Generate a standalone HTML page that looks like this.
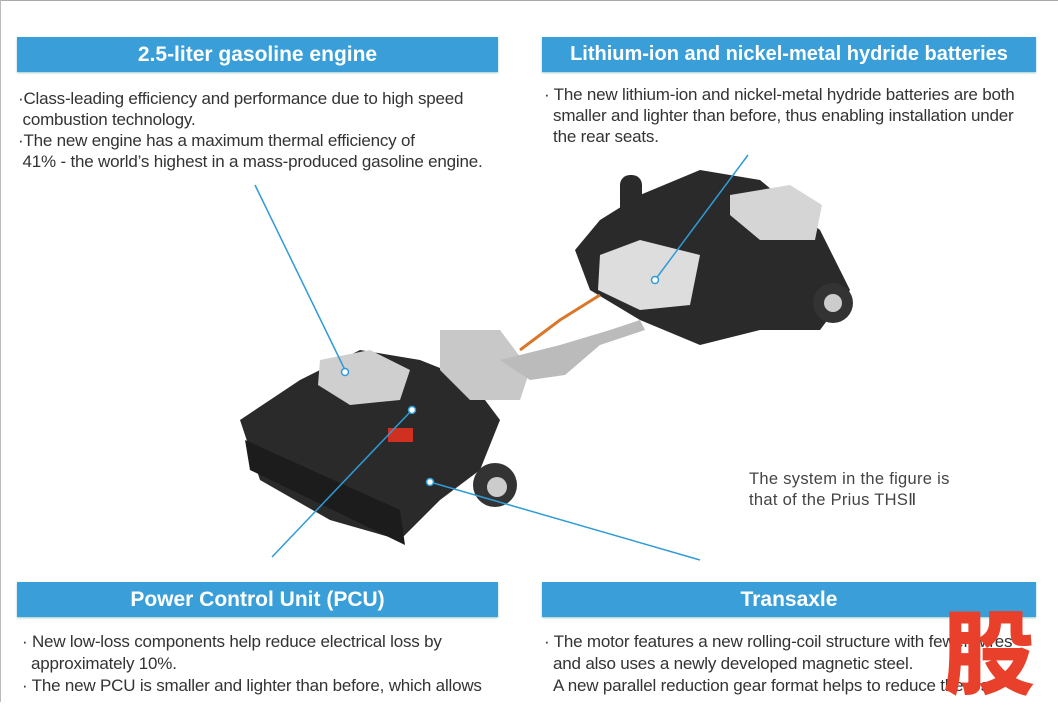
<!DOCTYPE html>
<html><head><meta charset="utf-8"><style>
body{margin:0;width:1058px;height:702px;overflow:hidden;background:#fff;position:relative;font-family:"Liberation Sans",sans-serif;color:#333}
.h{position:absolute;background:#3a9fd9;color:#fff;font-family:"Liberation Sans",sans-serif;font-weight:bold;font-size:21px;text-align:center;line-height:35px;height:35px;box-shadow:0 1px 2px #9cc}
.t{position:absolute;font-size:17px;line-height:21px;white-space:nowrap;letter-spacing:-0.2px}
</style></head><body>
<div style="position:absolute;left:0;top:0;width:1058px;height:1px;background:#aaa"></div>
<div style="position:absolute;left:0;top:0;width:1px;height:702px;background:#bbb"></div>
<div class="h" style="left:17px;top:37px;width:481px">2.5-liter gasoline engine</div>
<div class="h" style="left:542px;top:37px;width:494px;font-size:20px">Lithium-ion and nickel-metal hydride batteries</div>
<div class="h" style="left:17px;top:582px;width:481px">Power Control Unit (PCU)</div>
<div class="h" style="left:542px;top:582px;width:494px">Transaxle</div>
<div class="t" style="left:18px;top:88px">·Class-leading efficiency and performance due to high speed<br>&nbsp;combustion technology.<br>·The new engine has a maximum thermal efficiency of<br>&nbsp;41% - the world’s highest in a mass-produced gasoline engine.</div>
<div class="t" style="left:544px;top:84px">· The new lithium-ion and nickel-metal hydride batteries are both<br>&nbsp;&nbsp;smaller and lighter than before, thus enabling installation under<br>&nbsp;&nbsp;the rear seats.</div>
<div class="t" style="left:22px;top:631px;line-height:22px">· New low-loss components help reduce electrical loss by<br>&nbsp;&nbsp;approximately 10%.<br>· The new PCU is smaller and lighter than before, which allows</div>
<div class="t" style="left:544px;top:631px;line-height:22px">· The motor features a new rolling-coil structure with fewer wires<br>&nbsp;&nbsp;and also uses a newly developed magnetic steel.<br>&nbsp;&nbsp;A new parallel reduction gear format helps to reduce the loss</div>
<div class="t" style="left:749px;top:469px;font-size:16.5px;line-height:21px;color:#444;letter-spacing:0.3px">The system in the figure is<br>that of the Prius THSⅡ</div>
<svg style="position:absolute;left:0;top:0" width="1058" height="702">
<g fill="#2a2a2a">
<polygon points="240,420 300,380 360,350 420,360 470,380 500,420 480,470 440,500 400,540 330,520 260,480"/>
<polygon points="245,440 400,510 405,545 250,470" fill="#1c1c1c"/>
<polygon points="575,250 600,220 640,195 700,170 760,180 820,230 850,290 820,330 760,330 700,345 640,320 590,290"/>
<rect x="620" y="175" width="22" height="45" rx="10"/>
<circle cx="833" cy="303" r="20" fill="#333"/><circle cx="833" cy="303" r="9" fill="#ccc"/>
<circle cx="495" cy="485" r="22" fill="#333"/><circle cx="497" cy="487" r="10" fill="#ccc"/>
</g>
<polygon points="600,255 640,240 700,255 690,305 640,310 598,290" fill="#ddd"/>
<polygon points="730,195 790,185 822,205 815,240 760,240 730,215" fill="#d5d5d5"/>
<polygon points="320,360 370,350 410,370 400,400 350,405 318,385" fill="#cfcfcf"/>
<polygon points="440,330 500,330 530,370 520,400 470,400 440,370" fill="#c8c8c8"/>
<polygon points="500,360 560,345 610,330 640,320 645,330 600,345 565,375 530,380" fill="#bbb"/>
<rect x="388" y="428" width="25" height="14" fill="#d03020"/>
<path d="M520,350 L560,320 L600,295" stroke="#d9782b" stroke-width="3" fill="none"/>
<g stroke="#2f9bd6" stroke-width="1.5" fill="none">
<line x1="255" y1="185" x2="345" y2="370"/>
<line x1="748" y1="155" x2="655" y2="280"/>
<line x1="412" y1="410" x2="272" y2="557"/>
<line x1="430" y1="482" x2="700" y2="560"/>
</g>
<g fill="#fff" stroke="#2f9bd6" stroke-width="1.5"><circle cx="345" cy="372" r="3.5"/><circle cx="655" cy="280" r="3.5"/><circle cx="412" cy="410" r="3.5"/><circle cx="430" cy="482" r="3.5"/></g>
</svg>
<div style="position:absolute;left:943px;top:598px;font-family:'Noto Sans CJK SC',sans-serif;font-weight:900;font-size:92px;line-height:100px;color:#e8402a">股</div>
</body></html>
